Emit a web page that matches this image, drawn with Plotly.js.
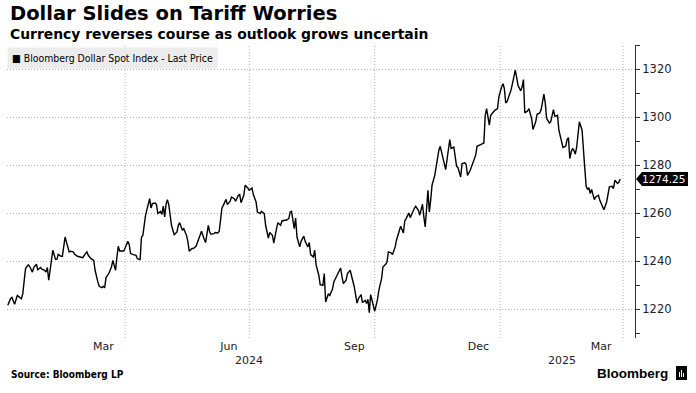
<!DOCTYPE html>
<html><head><meta charset="utf-8">
<script src="https://cdn.plot.ly/plotly-3.0.1.min.js"></script>
<style>html,body{margin:0;padding:0;background:#fff;} #chart{width:696px;height:393px;}</style>
</head><body><div id="chart"></div>
<script>
const dates = [
'2024-01-06','2024-01-08','2024-01-09','2024-01-11','2024-01-13','2024-01-14','2024-01-16','2024-01-17','2024-01-19','2024-01-21',
'2024-01-22','2024-01-24','2024-01-25','2024-01-27','2024-01-28','2024-01-30','2024-01-31','2024-02-02','2024-02-03','2024-02-04',
'2024-02-05','2024-02-07','2024-02-08','2024-02-10','2024-02-11','2024-02-12','2024-02-14','2024-02-15','2024-02-17','2024-02-18',
'2024-02-20','2024-02-21','2024-02-23','2024-02-24','2024-02-26','2024-02-28','2024-03-01','2024-03-02','2024-03-04','2024-03-05',
'2024-03-07','2024-03-09','2024-03-10','2024-03-12','2024-03-13','2024-03-15','2024-03-16','2024-03-17','2024-03-18','2024-03-20',
'2024-03-22','2024-03-23','2024-03-25','2024-03-26','2024-03-27','2024-03-28','2024-03-30','2024-03-31','2024-04-01','2024-04-03',
'2024-04-04','2024-04-05','2024-04-07','2024-04-09','2024-04-10','2024-04-12','2024-04-13','2024-04-14','2024-04-16','2024-04-17',
'2024-04-19','2024-04-20','2024-04-21','2024-04-23','2024-04-24','2024-04-25','2024-04-27','2024-04-28','2024-04-29','2024-04-30',
'2024-05-01','2024-05-02','2024-05-03','2024-05-05','2024-05-06','2024-05-07','2024-05-09','2024-05-10','2024-05-11','2024-05-13',
'2024-05-14','2024-05-16','2024-05-17','2024-05-18','2024-05-20','2024-05-21','2024-05-23','2024-05-24','2024-05-26','2024-05-27',
'2024-05-29','2024-05-30','2024-06-01','2024-06-02','2024-06-03','2024-06-05','2024-06-06','2024-06-08','2024-06-09','2024-06-11',
'2024-06-12','2024-06-14','2024-06-15','2024-06-17','2024-06-18','2024-06-20','2024-06-21','2024-06-23','2024-06-24','2024-06-25',
'2024-06-27','2024-06-28','2024-06-30','2024-07-01','2024-07-03','2024-07-04','2024-07-06','2024-07-07','2024-07-09','2024-07-10',
'2024-07-12','2024-07-13','2024-07-15','2024-07-16','2024-07-18','2024-07-19','2024-07-21','2024-07-22','2024-07-24','2024-07-25',
'2024-07-27','2024-07-28','2024-07-30','2024-07-31','2024-08-01','2024-08-03','2024-08-04','2024-08-05','2024-08-07','2024-08-08',
'2024-08-10','2024-08-11','2024-08-13','2024-08-14','2024-08-15','2024-08-17','2024-08-18','2024-08-19','2024-08-21','2024-08-22',
'2024-08-24','2024-08-25','2024-08-26','2024-08-28','2024-08-29','2024-08-31','2024-09-01','2024-09-03','2024-09-04','2024-09-06',
'2024-09-07','2024-09-08','2024-09-10','2024-09-11','2024-09-13','2024-09-14','2024-09-16','2024-09-18','2024-09-19','2024-09-21',
'2024-09-22','2024-09-24','2024-09-25','2024-09-26','2024-09-27','2024-09-28','2024-09-30','2024-10-01','2024-10-03','2024-10-04',
'2024-10-06','2024-10-07','2024-10-09','2024-10-10','2024-10-11','2024-10-13','2024-10-14','2024-10-16','2024-10-17','2024-10-19',
'2024-10-20','2024-10-22','2024-10-23','2024-10-24','2024-10-26','2024-10-27','2024-10-29','2024-10-30','2024-10-31','2024-11-02',
'2024-11-03','2024-11-05','2024-11-06','2024-11-07','2024-11-09','2024-11-10','2024-11-11','2024-11-12','2024-11-14','2024-11-15',
'2024-11-17','2024-11-18','2024-11-19','2024-11-21','2024-11-22','2024-11-23','2024-11-24','2024-11-25','2024-11-26','2024-11-28',
'2024-11-29','2024-11-30','2024-12-01','2024-12-03','2024-12-04','2024-12-06','2024-12-07','2024-12-08','2024-12-10','2024-12-11',
'2024-12-13','2024-12-14','2024-12-15','2024-12-17','2024-12-18','2024-12-20','2024-12-21','2024-12-22','2024-12-24','2024-12-25',
'2024-12-27','2024-12-28','2024-12-30','2024-12-31','2025-01-02','2025-01-03','2025-01-04','2025-01-05','2025-01-06','2025-01-08',
'2025-01-09','2025-01-11','2025-01-12','2025-01-13','2025-01-14','2025-01-16','2025-01-17','2025-01-18','2025-01-19','2025-01-21',
'2025-01-22','2025-01-24','2025-01-25','2025-01-27','2025-01-28','2025-01-30','2025-01-31','2025-02-02','2025-02-03','2025-02-04',
'2025-02-06','2025-02-07','2025-02-08','2025-02-09','2025-02-10','2025-02-12','2025-02-13','2025-02-15','2025-02-16','2025-02-18',
'2025-02-19','2025-02-20','2025-02-21','2025-02-22','2025-02-23','2025-02-24','2025-02-25','2025-02-26','2025-02-27','2025-02-28',
'2025-03-02','2025-03-03','2025-03-04','2025-03-05','2025-03-06','2025-03-07','2025-03-08','2025-03-09','2025-03-11','2025-03-12',
'2025-03-14','2025-03-15','2025-03-17','2025-03-18','2025-03-20','2025-03-21','2025-03-22','2025-03-24','2025-03-25','2025-03-26',
'2025-03-28','2025-03-29','2025-03-30'
];
const values = [
1221.7,1224.4,1224.9,1222.1,1225.8,1225.4,1224.4,1226.5,1237.0,1238.5,
1237.9,1235.5,1237.4,1238.75,1236.5,1237.4,1236.7,1236.25,1235.5,1237.4,
1232.1,1240.4,1244.6,1240.8,1240.8,1242.9,1242.1,1242.1,1250.1,1248.0,
1243.9,1244.2,1243.9,1242.9,1242.1,1241.8,1241.5,1242.5,1243.9,1242.5,
1241.1,1240.4,1236.25,1231.4,1229.6,1229.0,1229.6,1228.9,1233.2,1234.9,
1237.6,1240.4,1236.25,1241.8,1246.25,1244.3,1244.3,1244.3,1245.5,1248.3,
1247.0,1243.2,1242.8,1242.5,1241.1,1240.7,1250.1,1250.8,1259.2,1262.0,
1266.1,1262.2,1264.0,1264.3,1263.6,1259.9,1260.8,1259.5,1263.0,1258.5,
1263.6,1265.7,1263.6,1255.0,1252.9,1251.1,1252.2,1255.0,1256.1,1252.9,
1253.6,1250.8,1248.3,1244.2,1245.3,1245.3,1246.25,1247.8,1250.1,1252.5,
1249.2,1247.8,1255.0,1252.2,1251.25,1251.5,1252.0,1251.8,1252.5,1262.2,
1263.3,1265.8,1263.6,1265.0,1266.8,1266.1,1265.0,1267.5,1267.8,1264.4,
1267.5,1271.7,1270.5,1269.6,1270.5,1267.8,1264.7,1260.5,1259.9,1260.8,
1259.9,1255.0,1249.7,1252.0,1250.8,1247.6,1253.6,1256.1,1255.0,1256.8,
1257.1,1257.1,1257.8,1260.5,1260.8,1253.6,1258.0,1250.1,1246.0,1248.3,
1250.5,1248.3,1246.0,1247.8,1242.8,1241.8,1244.6,1238.6,1234.2,1230.3,
1230.0,1234.9,1223.0,1226.5,1225.8,1228.3,1231.4,1233.9,1235.3,1237.2,
1233.5,1230.7,1232.1,1234.9,1236.25,1234.2,1229.3,1222.6,1224.4,1226.1,
1222.8,1223.75,1222.4,1224.2,1218.6,1226.1,1221.0,1219.2,1224.0,1227.9,
1232.8,1237.6,1238.75,1239.7,1243.9,1243.5,1242.8,1246.0,1249.0,1252.9,
1254.6,1251.8,1256.8,1257.8,1260.1,1258.2,1261.25,1262.0,1262.9,1261.25,
1259.2,1263.75,1258.5,1254.3,1269.6,1260.5,1265.4,1271.7,1275.8,1280.0,
1286.25,1287.9,1285.5,1280.0,1278.2,1282.4,1286.0,1290.7,1287.0,1287.6,
1283.5,1279.6,1279.0,1275.1,1280.7,1281.0,1280.4,1275.8,1277.9,1279.6,
1282.1,1284.2,1287.9,1288.3,1288.75,1289.3,1300.8,1303.6,1296.7,1300.8,
1302.2,1302.9,1303.6,1308.5,1312.6,1314.0,1312.0,1306.0,1306.5,1309.9,
1311.5,1316.8,1319.6,1316.8,1313.3,1311.0,1312.6,1315.7,1301.8,1302.6,
1303.6,1299.5,1294.9,1298.1,1301.25,1301.8,1303.2,1309.6,1306.0,1299.5,
1297.6,1298.1,1300.4,1303.2,1300.4,1300.8,1294.6,1289.0,1287.4,1287.9,
1290.7,1291.5,1282.8,1285.5,1287.0,1286.25,1284.6,1287.4,1293.5,1298.1,
1294.6,1288.3,1278.6,1271.25,1269.9,1270.7,1268.2,1269.9,1265.7,1266.8,
1267.5,1265.4,1262.6,1261.5,1264.7,1268.2,1271.0,1271.25,1270.3,1273.75,
1272.4,1273.0,1274.25
];
const monthTickDates = ['2024-03-16','2024-06-16','2024-09-16','2024-12-16','2025-03-16'];
const monthTickLabels = ['Mar','Jun','Sep','Dec','Mar'];
const quarterGridDates = ['2024-04-01','2024-07-01','2024-10-01','2025-01-01','2025-04-01'];
const yearLabelDates = ['2024-07-01','2025-02-15'];
const yearLabels = ['2024','2025'];
const yTicks = [1220,1240,1260,1280,1300,1320];
const seriesName = 'Bloomberg Dollar Spot Index - Last Price';

const lastVal = values[values.length-1];
const FONT = 'DejaVu Sans, Verdana, sans-serif';
const GRID = '#b4b4b4';
const GRIDDASH = '1px,2px';

const trace = {
  x: dates, y: values, type: 'scatter', mode: 'lines',
  line: {color: '#000', width: 1.4}, hoverinfo: 'skip', showlegend: false
};

const shapes = quarterGridDates.map(d => ({
  type: 'line', xref: 'x', yref: 'paper', x0: d, x1: d, y0: 0, y1: 1,
  line: {color: GRID, width: 1, dash: GRIDDASH}, layer: 'below'
}));
shapes.push({
  type: 'path', xref: 'paper', yref: 'y', xsizemode: 'pixel', ysizemode: 'pixel',
  xanchor: 1, yanchor: lastVal,
  path: 'M1,0 L7,7 L53,7 L53,-7 L7,-7 Z',
  fillcolor: '#000', line: {width: 0}, layer: 'above'
});
// Bloomberg logo mark
shapes.push({type:'rect', xref:'paper', yref:'paper', x0:(676-7)/628, x1:(687-7)/628, y0:(338-380)/293, y1:(338-366)/293,
  fillcolor:'#000', line:{width:0}});
[679.5, 681.5, 683.5].forEach((px, i) => shapes.push({
  type:'line', xref:'paper', yref:'paper', x0:(px-7)/628, x1:(px-7)/628,
  y0:(338-377)/293, y1:(338-[372,370,373][i])/293, line:{color:'#fff', width:1}
}));

const annotations = [
  {xref:'paper', yref:'paper', x:(8-7)/628, y:(338-14)/293, xanchor:'left', yanchor:'middle', showarrow:false,
   text:'<b>Dollar Slides on Tariff Worries</b>', font:{family:FONT, size:19.5, color:'#000'}},
  {xref:'paper', yref:'paper', x:(8-7)/628, y:(338-34)/293, xanchor:'left', yanchor:'middle', showarrow:false,
   text:'<b>Currency reverses course as outlook grows uncertain</b>', font:{family:FONT, size:13.9, color:'#000'}},
  {xref:'paper', yref:'paper', x:0, y:(338-47)/293, xanchor:'left', yanchor:'top', showarrow:false,
   text:'■ ' + seriesName, bgcolor:'#ececec', borderpad:4,
   font:{family:'DejaVu Sans Condensed, DejaVu Sans, sans-serif', size:10.4, color:'#000'}},
  {xref:'paper', yref:'y', x:1, y:lastVal, xanchor:'left', yanchor:'middle', xshift:5, showarrow:false,
   text: lastVal.toFixed(2), font:{family:FONT, size:10.5, color:'#fff'}},
  {xref:'paper', yref:'paper', x:(9-7)/628, y:(338-375)/293, xanchor:'left', yanchor:'middle', showarrow:false,
   text:'<b>Source: Bloomberg LP</b>', font:{family:'DejaVu Sans Condensed, DejaVu Sans, sans-serif', size:10, color:'#000'}},
  {xref:'paper', yref:'paper', x:(670-7)/628, y:(338-373)/293, xanchor:'right', yanchor:'middle', showarrow:false,
   text:'<b>Bloomberg</b>', font:{family:'Liberation Sans, Arial, sans-serif', size:13.5, color:'#000'}}
];
yearLabelDates.forEach((d,i) => annotations.push({
  xref:'x', yref:'paper', x:d, y:(338-360)/293, xanchor:'center', yanchor:'middle', showarrow:false,
  text: yearLabels[i], font:{family:FONT, size:11, color:'#222'}
}));

const layout = {
  width: 696, height: 393,
  margin: {l:7, r:61, t:45, b:55, pad:0},
  paper_bgcolor:'#fff', plot_bgcolor:'#fff',
  showlegend:false,
  xaxis: {
    type:'date', range:['2024-01-05 10:00','2025-04-09 19:00'],
    tickmode:'array', tickvals: monthTickDates, ticktext: monthTickLabels,
    ticks:'', showgrid:false, showline:false, zeroline:false,
    tickfont:{family:FONT, size:11, color:'#222'}
  },
  yaxis: {
    side:'right', range:[1208.04, 1330.1],
    tickmode:'array', tickvals: yTicks,
    ticks:'outside', ticklen:4, tickcolor:'#333', tickwidth:1,
    showline:true, linecolor:'#333', linewidth:1,
    showgrid:true, gridcolor: GRID, griddash: GRIDDASH, gridwidth:1,
    zeroline:false,
    tickfont:{family:FONT, size:11.5, color:'#222'},
    minor:{tickmode:'linear', tick0:1210, dtick:10, ticks:'outside', ticklen:4, tickcolor:'#333', showgrid:false}
  },
  shapes: shapes,
  annotations: annotations
};

Plotly.newPlot('chart', [trace], layout, {displayModeBar:false, staticPlot:true});
</script>
</body></html>
